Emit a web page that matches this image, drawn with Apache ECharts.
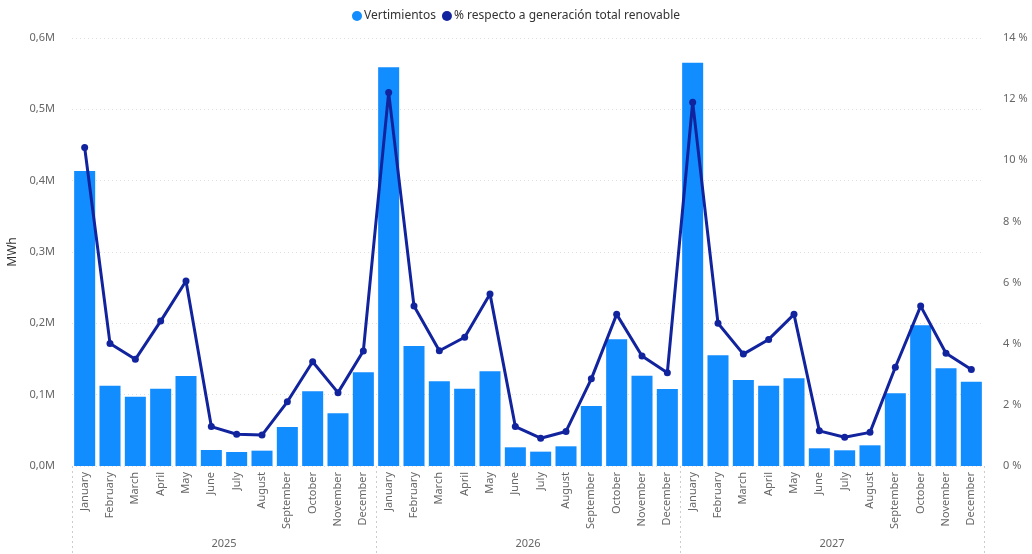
<!DOCTYPE html>
<html>
<head>
<meta charset="utf-8">
<script src="https://cdn.jsdelivr.net/npm/echarts@6/dist/echarts.min.js"></script>
<style>
html,body{margin:0;padding:0;background:#fff;}
#c{width:1032px;height:554px;}
</style>
</head>
<body>
<div id="c"></div>
<script>
const years = ['2025', '2026', '2027'];
const months = ['January','February','March','April','May','June','July','August','September','October','November','December'];
const vert2025 = [413600, 112600, 97200, 108400, 126200, 22400, 19600, 21500, 54700, 104700, 73800, 131300];
const vert2026 = [559000, 168200, 118700, 108400, 132700, 26200, 20100, 27600, 84100, 177600, 126600, 107900];
const vert2027 = [565400, 155200, 120600, 112600, 122900, 24800, 22000, 29000, 101900, 197200, 136900, 118200];
const pct2025 = [10.42, 4.01, 3.49, 4.74, 6.05, 1.29, 1.04, 1.01, 2.10, 3.41, 2.40, 3.76];
const pct2026 = [12.22, 5.23, 3.77, 4.21, 5.63, 1.29, 0.91, 1.13, 2.85, 4.96, 3.60, 3.05];
const pct2027 = [11.90, 4.67, 3.66, 4.14, 4.96, 1.15, 0.94, 1.10, 3.23, 5.23, 3.69, 3.16];
const leftTicks = { min: 0, max: 600000, interval: 100000 };
const rightTicks = { min: 0, max: 14, interval: 2 };

const monthCats = [];
years.forEach(() => months.forEach(m => monthCats.push(m)));
const vert = vert2025.concat(vert2026, vert2027);
const pct = pct2025.concat(pct2026, pct2027);

const FONT = "'Segoe UI', 'Noto Sans', sans-serif";
const chart = echarts.init(document.getElementById('c'), null, { renderer: 'canvas' });
chart.setOption({
  animation: false,
  textStyle: { fontFamily: FONT },
  legend: {
    top: 5, left: 'center',
    icon: 'circle', itemWidth: 10, itemHeight: 10, itemGap: 6,
    textStyle: { fontSize: 12, color: '#333', fontFamily: FONT, padding: [0, 0, 0, -3] },
    data: ['Vertimientos', '% respecto a generación total renovable']
  },
  grid: { left: 72, right: 48, top: 38, bottom: 88, containLabel: false, outerBoundsMode: 'none' },
  xAxis: [
    {
      type: 'category', data: monthCats, position: 'bottom',
      axisLine: { show: false }, axisTick: { show: false },
      axisLabel: { rotate: 90, interval: 0, fontSize: 11, color: '#666', margin: 6, fontFamily: FONT }
    },
    {
      type: 'category', data: years, position: 'bottom',
      axisLine: { show: false },
      axisTick: { show: true, length: 88, lineStyle: { color: '#ccc', type: [2, 3], width: 1 } },
      axisLabel: { fontSize: 11, color: '#666', margin: 72, fontFamily: FONT }
    }
  ],
  yAxis: [
    {
      type: 'value', min: leftTicks.min, max: leftTicks.max, interval: leftTicks.interval,
      name: 'MWh', nameLocation: 'middle', nameGap: 50, nameRotate: 90,
      nameTextStyle: { fontSize: 12, color: '#333', fontFamily: FONT },
      axisLine: { show: false }, axisTick: { show: false },
      axisLabel: { fontSize: 11, color: '#666', margin: 17, fontFamily: FONT,
        formatter: v => (v / 1e6).toFixed(1).replace('.', ',') + 'M' },
      splitLine: { show: true, lineStyle: { color: '#ddd', type: [1, 3], width: 1 } }
    },
    {
      type: 'value', min: rightTicks.min, max: rightTicks.max, interval: rightTicks.interval,
      position: 'right',
      axisLine: { show: false }, axisTick: { show: false },
      axisLabel: { fontSize: 11, color: '#666', margin: 19, fontFamily: FONT,
        formatter: v => v + ' %' },
      splitLine: { show: false }
    }
  ],
  series: [
    {
      name: 'Vertimientos', type: 'bar', xAxisIndex: 0, yAxisIndex: 0,
      data: vert, barCategoryGap: '17%',
      itemStyle: { color: '#118DFF' }
    },
    {
      name: '% respecto a generación total renovable', type: 'line', xAxisIndex: 0, yAxisIndex: 1,
      data: pct, symbol: 'circle', symbolSize: 7,
      lineStyle: { color: '#12239E', width: 3 },
      itemStyle: { color: '#12239E' }
    }
  ]
});
</script>
</body>
</html>
